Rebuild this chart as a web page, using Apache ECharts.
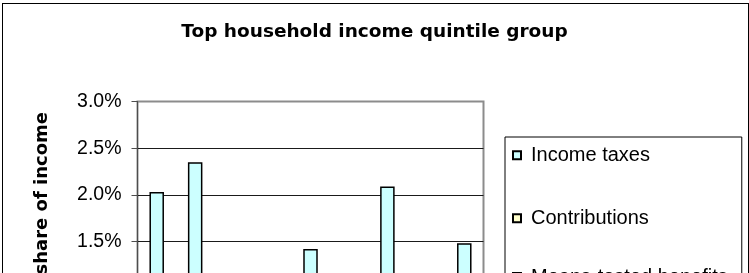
<!DOCTYPE html>
<html>
<head>
<meta charset="utf-8">
<script src="https://cdn.jsdelivr.net/npm/echarts@6/dist/echarts.min.js"></script>
<style>
html, body { margin: 0; padding: 0; width: 749px; height: 273px; overflow: hidden; background: #fff; }
#frame { position: absolute; left: 2px; top: 3px; width: 745px; height: 520px; border: 1px solid #000; }
#chart { position: absolute; left: 0; top: 0; width: 749px; height: 480px; }
</style>
</head>
<body>
<div id="frame"></div>
<div id="chart"></div>
<script>
// values (share of income, %); the lower part of the chart is cropped
const categories = ['A', 'B', 'C', 'D', 'E', 'F', 'G', 'H', 'I'];
const incomeTaxes = [2.03, 2.35, 0.95, 0.80, 1.42, 1.05, 2.09, 0.90, 1.48];
const contributions = [-0.30, -0.25, -0.20, -0.35, -0.30, -0.20, -0.25, -0.30, -0.20];
const meansTested = [-0.10, -0.05, -0.10, -0.05, -0.10, -0.05, -0.10, -0.05, -0.10];
const seriesNames = ['Income taxes', 'Contributions', 'Means-tested benefits'];
const seriesColors = ['#CCFFFF', '#FFFFCC', '#CCFFCC'];
const legendLineHeights = [28.6, 20, 20];
const yMin = 0, yMax = 3, yStep = 0.5;

(function () {
  const chart = echarts.init(document.getElementById('chart'));
  const dataSets = [incomeTaxes, contributions, meansTested];

  const options = {
    animation: false,
    title: {
      text: 'Top household income quintile group',
      left: 'center',
      top: 23,
      padding: 0,
      textStyle: { fontFamily: 'DejaVu Sans', fontWeight: 'bold', fontSize: 18.5, color: '#000' }
    },
    graphic: [{
      type: 'text',
      x: 42,
      y: 112,
      rotation: Math.PI / 2,
      style: {
        text: 'share of income',
        font: 'bold 18px "DejaVu Sans"',
        fill: '#000',
        textAlign: 'right',
        textVerticalAlign: 'middle'
      }
    }],
    legend: {
      orient: 'vertical',
      left: 505,
      top: 137,
      padding: [4, 14, 8, 2],
      itemGap: 38.7,
      itemWidth: 18,
      itemHeight: 8,
      // 8x8 square sitting 5px into an 18px wide slot
      icon: 'path://M0,0M18,8M5,0H13V8H5Z',
      borderColor: '#000',
      borderWidth: 1,
      textStyle: { fontFamily: 'Liberation Sans', fontSize: 20, lineHeight: 20, color: '#000' },
      data: seriesNames.map(function (name, i) {
        return { name: name, textStyle: { lineHeight: legendLineHeights[i] } };
      })
    },
    grid: {
      left: 137.5,
      right: 265.5,
      top: 101.5,
      bottom: 98.5,
      show: true,
      borderColor: '#8c8c8c',
      borderWidth: 2
    },
    xAxis: {
      type: 'category',
      data: categories,
      axisLine: { lineStyle: { color: '#000' } },
      axisTick: { show: false },
      axisLabel: { color: '#000', fontFamily: 'Liberation Sans', fontSize: 16 }
    },
    yAxis: {
      type: 'value',
      min: yMin,
      max: yMax,
      interval: yStep,
      axisLine: { show: true, lineStyle: { color: '#4d4d4d', width: 1 } },
      axisTick: { show: true, inside: false, length: 6, lineStyle: { color: '#4d4d4d' } },
      axisLabel: {
        margin: 16,
        color: '#000',
        fontFamily: 'Liberation Sans',
        fontSize: 19.5,
        formatter: function (v) { return v.toFixed(1) + '%'; }
      },
      splitLine: {
        lineStyle: { color: ['#1a1a1a', '#1a1a1a', '#1a1a1a', '#1a1a1a', '#1a1a1a', '#1a1a1a', '#8c8c8c'], width: 1 }
      }
    },
    series: seriesNames.map(function (name, i) {
      return {
        name: name,
        type: 'bar',
        stack: 'total',
        barWidth: 14.5,
        data: dataSets[i],
        itemStyle: { color: seriesColors[i], borderColor: '#000', borderWidth: 1.5 }
      };
    })
  };

  chart.setOption(options);
  window.addEventListener('resize', function () { chart.resize(); });
})();
</script>
</body>
</html>
